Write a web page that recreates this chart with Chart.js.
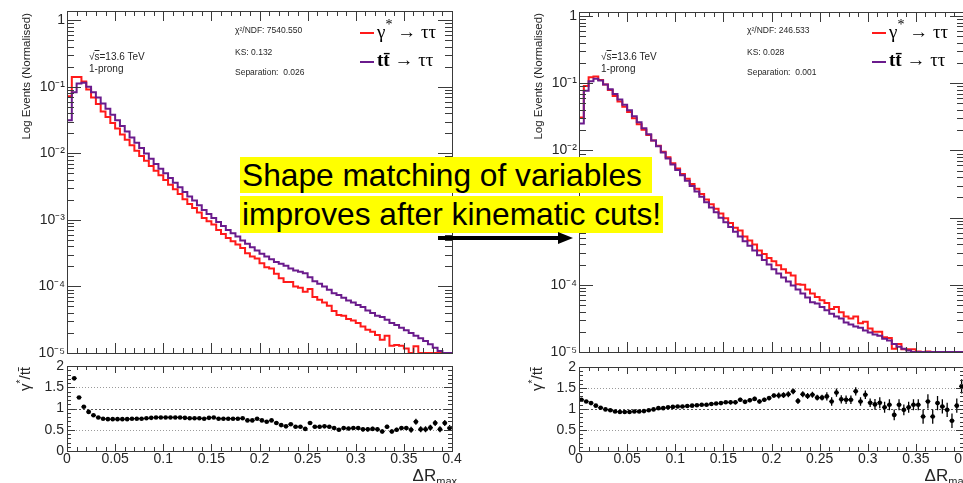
<!DOCTYPE html>
<html>
<head>
<meta charset="utf-8">
<title>ΔR_max shape comparison</title>
<script src="https://cdn.jsdelivr.net/npm/chart.js@4.4.1/dist/chart.umd.min.js"></script>
<style>
  html, body { margin: 0; padding: 0; background: #fff; }
  body { position: relative; width: 963px; height: 483px; overflow: hidden; font-family: "Liberation Sans", Arial, sans-serif; }
  canvas { position: absolute; }
  .lbl { position: absolute; white-space: pre; color: #262626; line-height: 1; }
  .rot { transform-origin: 0 0; transform: rotate(-90deg); text-align: right; }
  .leg { position: absolute; white-space: pre; font-family: "Liberation Serif", "Times New Roman", serif; font-size: 19px; line-height: 19px; color: #000; }
  .swatch { position: absolute; width: 14px; height: 2px; }
  .note { position: absolute; left: 240px; height: 36px; background: #ffff00; font-size: 31.7px; line-height: 36px; color: #000; padding-left: 2px; white-space: pre; }
</style>
</head>
<body>
<canvas id="topL" width="475" height="365" style="left:0;top:0"></canvas>
<canvas id="ratioL" width="475" height="125" style="left:0;top:358px"></canvas>
<canvas id="topR" width="475" height="365" style="left:512px;top:0"></canvas>
<canvas id="ratioR" width="475" height="125" style="left:512px;top:358px"></canvas>
<div id="labels"></div>
<div class="note" style="top:157px;width:410px">Shape matching of variables </div>
<div class="note" style="top:196px;width:421px;height:37px">improves after kinematic cuts!</div>
<svg style="position:absolute;left:430px;top:225px" width="150" height="26">
  <line x1="8" y1="13" x2="131" y2="13" stroke="#000" stroke-width="4"/>
  <polygon points="128,7 143,13 128,19" fill="#000"/>
</svg>
<script>
// 80 bins of 0.005 in ΔR_max, from 0 to 0.4
const binWidth = 0.005;
const yFloor = 1e-5;

// before kinematic cuts
const gammaLeft = [
  7.24e-2, 1.41e-1, 1.41e-1, 1.20e-1, 9.12e-2, 6.92e-2, 5.50e-2, 4.27e-2, 3.51e-2, 2.85e-2,
  2.37e-2, 1.93e-2, 1.60e-2, 1.32e-2, 1.10e-2, 9.12e-3, 7.76e-3, 6.46e-3, 5.50e-3, 4.68e-3,
  3.98e-3, 3.39e-3, 2.88e-3, 2.45e-3, 2.04e-3, 1.74e-3, 1.51e-3, 1.29e-3, 1.07e-3, 9.55e-4,
  8.51e-4, 7.08e-4, 6.17e-4, 5.37e-4, 4.79e-4, 4.27e-4, 3.80e-4, 3.16e-4, 2.82e-4, 2.63e-4,
  2.24e-4, 1.95e-4, 1.86e-4, 1.55e-4, 1.33e-4, 1.17e-4, 1.17e-4, 1.00e-4, 9.55e-5, 8.32e-5,
  9.12e-5, 6.92e-5, 6.31e-5, 5.75e-5, 5.13e-5, 4.27e-5, 3.72e-5, 3.63e-5, 3.24e-5, 3.09e-5,
  2.82e-5, 2.51e-5, 2.24e-5, 2.09e-5, 1.86e-5, 1.58e-5, 1.82e-5, 1.29e-5, 1.32e-5, 1.29e-5,
  1.17e-5, 1.00e-5, 1.26e-5, 8.5e-6, 7.8e-6, 7.4e-6, 7.9e-6, 5.5e-6, 6.5e-6, 5.1e-6
];
const ttbarLeft = [
  3.16e-2, 8.32e-2, 1.12e-1, 1.15e-1, 1.00e-1, 8.32e-2, 6.92e-2, 5.62e-2, 4.68e-2, 3.80e-2,
  3.16e-2, 2.57e-2, 2.14e-2, 1.74e-2, 1.45e-2, 1.20e-2, 1.00e-2, 8.32e-3, 6.92e-3, 5.89e-3,
  5.01e-3, 4.27e-3, 3.63e-3, 3.09e-3, 2.63e-3, 2.24e-3, 1.95e-3, 1.66e-3, 1.41e-3, 1.23e-3,
  1.07e-3, 9.33e-4, 8.13e-4, 7.08e-4, 6.31e-4, 5.62e-4, 4.90e-4, 4.37e-4, 3.89e-4, 3.47e-4,
  3.09e-4, 2.82e-4, 2.57e-4, 2.34e-4, 2.19e-4, 2.04e-4, 1.86e-4, 1.74e-4, 1.66e-4, 1.58e-4,
  1.38e-4, 1.20e-4, 1.10e-4, 1.00e-4, 8.91e-5, 7.94e-5, 7.41e-5, 6.76e-5, 6.17e-5, 5.75e-5,
  5.25e-5, 4.90e-5, 4.37e-5, 3.98e-5, 3.63e-5, 3.47e-5, 3.16e-5, 2.82e-5, 2.63e-5, 2.40e-5,
  2.19e-5, 2.00e-5, 1.82e-5, 1.66e-5, 1.51e-5, 1.35e-5, 1.20e-5, 1.07e-5, 9.8e-6, 9.5e-6
];
const ratioLeft = [
  null, 1.71, 1.26, 1.04, 0.92, 0.84, 0.79, 0.76, 0.75, 0.75,
  0.75, 0.75, 0.75, 0.76, 0.76, 0.76, 0.77, 0.78, 0.79, 0.79,
  0.79, 0.79, 0.79, 0.79, 0.78, 0.77, 0.77, 0.77, 0.76, 0.78,
  0.79, 0.76, 0.76, 0.76, 0.76, 0.76, 0.77, 0.72, 0.72, 0.76,
  0.72, 0.69, 0.72, 0.66, 0.61, 0.58, 0.63, 0.57, 0.57, 0.52,
  0.66, 0.57, 0.57, 0.58, 0.57, 0.54, 0.50, 0.54, 0.53, 0.54,
  0.54, 0.51, 0.51, 0.52, 0.51, 0.46, 0.57, 0.46, 0.50, 0.54,
  0.54, 0.50, 0.69, 0.51, 0.51, 0.55, 0.66, 0.51, 0.66, 0.54
];
const ratioErrLeft = [
  0, 0.03, 0.02, 0.02, 0.02, 0.02, 0.02, 0.02, 0.02, 0.02,
  0.02, 0.02, 0.02, 0.02, 0.02, 0.02, 0.02, 0.02, 0.02, 0.02,
  0.02, 0.02, 0.02, 0.02, 0.02, 0.02, 0.02, 0.02, 0.02, 0.02,
  0.02, 0.02, 0.02, 0.02, 0.02, 0.02, 0.03, 0.03, 0.03, 0.03,
  0.03, 0.03, 0.03, 0.03, 0.03, 0.03, 0.03, 0.03, 0.03, 0.03,
  0.03, 0.04, 0.04, 0.04, 0.04, 0.04, 0.04, 0.04, 0.04, 0.04,
  0.04, 0.05, 0.05, 0.05, 0.05, 0.05, 0.05, 0.05, 0.05, 0.05,
  0.05, 0.07, 0.07, 0.07, 0.07, 0.07, 0.07, 0.07, 0.07, 0.07
];

// after kinematic cuts
const gammaRight = [
  3.09e-2, 9.12e-2, 1.23e-1, 1.26e-1, 1.12e-1, 9.55e-2, 7.94e-2, 6.46e-2, 5.37e-2, 4.47e-2,
  3.72e-2, 3.02e-2, 2.45e-2, 2.04e-2, 1.70e-2, 1.41e-2, 1.17e-2, 9.55e-3, 7.94e-3, 6.46e-3,
  5.37e-3, 4.47e-3, 3.80e-3, 3.16e-3, 2.69e-3, 2.24e-3, 1.86e-3, 1.58e-3, 1.35e-3, 1.15e-3,
  9.77e-4, 8.32e-4, 7.08e-4, 6.46e-4, 5.25e-4, 4.57e-4, 3.98e-4, 3.24e-4, 2.88e-4, 2.51e-4,
  2.24e-4, 1.95e-4, 1.70e-4, 1.51e-4, 1.38e-4, 1.02e-4, 1.00e-4, 8.51e-5, 7.41e-5, 6.61e-5,
  5.89e-5, 5.37e-5, 4.37e-5, 4.68e-5, 3.89e-5, 3.39e-5, 3.16e-5, 3.39e-5, 2.69e-5, 2.82e-5,
  2.24e-5, 2.00e-5, 2.00e-5, 1.66e-5, 1.62e-5, 1.12e-5, 1.32e-5, 1.10e-5, 1.10e-5, 1.10e-5,
  1.02e-5, 8.1e-6, 1.02e-5, 7.2e-6, 9.1e-6, 8.3e-6, 6.9e-6, 5.5e-6, 6.8e-6, 9.8e-6
];
const ttbarRight = [
  2.51e-2, 7.76e-2, 1.07e-1, 1.17e-1, 1.10e-1, 9.55e-2, 8.13e-2, 6.92e-2, 5.75e-2, 4.79e-2,
  3.98e-2, 3.24e-2, 2.63e-2, 2.14e-2, 1.74e-2, 1.41e-2, 1.15e-2, 9.33e-3, 7.59e-3, 6.17e-3,
  5.13e-3, 4.27e-3, 3.55e-3, 2.95e-3, 2.45e-3, 2.04e-3, 1.70e-3, 1.41e-3, 1.20e-3, 1.00e-3,
  8.51e-4, 7.24e-4, 6.17e-4, 5.25e-4, 4.47e-4, 3.80e-4, 3.24e-4, 2.75e-4, 2.34e-4, 2.00e-4,
  1.70e-4, 1.48e-4, 1.29e-4, 1.12e-4, 9.77e-5, 8.51e-5, 7.41e-5, 6.46e-5, 5.50e-5, 5.25e-5,
  4.68e-5, 4.17e-5, 3.72e-5, 3.39e-5, 3.16e-5, 2.75e-5, 2.57e-5, 2.40e-5, 2.29e-5, 2.09e-5,
  1.95e-5, 1.82e-5, 1.74e-5, 1.58e-5, 1.48e-5, 1.32e-5, 1.20e-5, 1.12e-5, 1.05e-5, 1.00e-5,
  9.3e-6, 1.00e-5, 8.7e-6, 8.9e-6, 7.9e-6, 7.9e-6, 7.1e-6, 7.6e-6, 6.3e-6, 6.3e-6
];
const ratioRight = [
  1.22, 1.18, 1.14, 1.08, 1.03, 0.99, 0.97, 0.94, 0.93, 0.93,
  0.93, 0.94, 0.94, 0.95, 0.97, 0.99, 1.02, 1.02, 1.04, 1.05,
  1.06, 1.06, 1.07, 1.08, 1.09, 1.10, 1.10, 1.12, 1.13, 1.14,
  1.16, 1.16, 1.16, 1.22, 1.17, 1.21, 1.24, 1.18, 1.22, 1.26,
  1.32, 1.32, 1.33, 1.35, 1.42, 1.19, 1.35, 1.31, 1.34, 1.27,
  1.27, 1.30, 1.18, 1.39, 1.23, 1.22, 1.22, 1.42, 1.18, 1.34,
  1.15, 1.11, 1.15, 1.04, 1.10, 0.86, 1.10, 0.98, 1.04, 1.10,
  1.10, 0.82, 1.18, 0.82, 1.14, 1.06, 0.98, 0.72, 1.08, 1.54
];
const ratioErrRight = [
  0.02, 0.02, 0.02, 0.02, 0.02, 0.02, 0.02, 0.02, 0.02, 0.02,
  0.02, 0.02, 0.02, 0.02, 0.02, 0.02, 0.02, 0.02, 0.02, 0.02,
  0.02, 0.03, 0.03, 0.03, 0.03, 0.03, 0.03, 0.03, 0.03, 0.03,
  0.03, 0.05, 0.05, 0.05, 0.05, 0.05, 0.05, 0.05, 0.05, 0.05,
  0.05, 0.07, 0.07, 0.07, 0.07, 0.07, 0.07, 0.07, 0.07, 0.07,
  0.07, 0.10, 0.10, 0.10, 0.10, 0.10, 0.10, 0.10, 0.10, 0.10,
  0.10, 0.13, 0.13, 0.13, 0.13, 0.13, 0.13, 0.13, 0.13, 0.13,
  0.13, 0.17, 0.17, 0.17, 0.17, 0.17, 0.17, 0.17, 0.17, 0.17
];

const statsLeft = ['χ²/NDF: 7540.550', 'KS: 0.132', 'Separation:  0.026'];
const statsRight = ['χ²/NDF: 246.533', 'KS: 0.028', 'Separation:  0.001'];

// axis labels
const xTickValues = [0, 0.05, 0.1, 0.15, 0.2, 0.25, 0.3, 0.35, 0.4];
const xTickLabels = ['0', '0.05', '0.1', '0.15', '0.2', '0.25', '0.3', '0.35', '0.4'];
const logTickValues = [1e-5, 1e-4, 1e-3, 1e-2, 1e-1, 1];
const logTickLabels = ['10⁻⁵', '10⁻⁴', '10⁻³', '10⁻²', '10⁻¹', '1'];
const ratioTickValues = [0, 0.5, 1, 1.5, 2];
const ratioTickLabels = ['0', '0.5', '1', '1.5', '2'];

const gammaColor = '#ff1a1a';
const ttbarColor = '#6a1b8c';
const textColor = '#262626';

Chart.defaults.font.family = '"Liberation Sans", Arial, sans-serif';

// minor/major tick positions along the y axes
const logTicks = [];
for (let e = -5; e <= 0; e++) {
  for (let m = 1; m <= 9; m++) logTicks.push({ v: m * Math.pow(10, e), major: m === 1 });
}
const ratioTicks = [];
for (let k = 0; k <= 20; k++) ratioTicks.push({ v: k / 10, major: k % 5 === 0 });

// ROOT style frame: box with inward ticks on all four sides
const rootFrame = {
  id: 'rootFrame',
  afterDraw(chart, args, o) {
    const { ctx, chartArea: a, scales: { x, y } } = chart;
    ctx.save();
    ctx.strokeStyle = '#3a3a3a';
    ctx.lineWidth = 1;
    ctx.beginPath();
    for (let k = 0; k <= 40; k++) {
      const px = Math.round(x.getPixelForValue(k * 0.01)) + 0.5;
      const len = k % 5 === 0 ? o.xMajor : o.xMinor;
      ctx.moveTo(px, a.bottom); ctx.lineTo(px, a.bottom - len);
      ctx.moveTo(px, a.top); ctx.lineTo(px, a.top + len);
    }
    o.yTicks.forEach(t => {
      const py = Math.round(y.getPixelForValue(t.v)) + 0.5;
      if (py < a.top || py > a.bottom + 1) return;
      const len = t.major ? o.yMajor : o.yMinor;
      ctx.moveTo(a.left, py); ctx.lineTo(a.left + len, py);
      ctx.moveTo(a.right, py); ctx.lineTo(a.right - len, py);
    });
    ctx.stroke();
    ctx.strokeRect(Math.round(a.left) + 0.5, Math.round(a.top) + 0.5,
      Math.round(a.right - a.left), Math.round(a.bottom - a.top));
    ctx.restore();
  }
};

// dotted reference lines and error bars of the ratio panel
const ratioDecor = {
  id: 'ratioDecor',
  beforeDatasetsDraw(chart, args, o) {
    const { ctx, chartArea: a, scales: { x, y } } = chart;
    ctx.save();
    [[0.5, '#9a9a9a', [1, 2]], [1.5, '#9a9a9a', [1, 2]], [1, '#555', [2, 2]]].forEach(([v, c, d]) => {
      const py = Math.round(y.getPixelForValue(v)) + 0.5;
      ctx.strokeStyle = c;
      ctx.setLineDash(d);
      ctx.beginPath(); ctx.moveTo(a.left, py); ctx.lineTo(a.right, py); ctx.stroke();
    });
    ctx.setLineDash([]);
    ctx.strokeStyle = '#000';
    ctx.lineWidth = 1.3;
    ctx.beginPath();
    o.values.forEach((v, i) => {
      if (v === null) return;
      const xc = x.getPixelForValue((i + 0.5) * binWidth);
      const yc = y.getPixelForValue(v);
      ctx.moveTo(xc, y.getPixelForValue(v - o.errors[i]));
      ctx.lineTo(xc, y.getPixelForValue(v + o.errors[i]));
      ctx.moveTo(x.getPixelForValue(i * binWidth), yc);
      ctx.lineTo(x.getPixelForValue((i + 1) * binWidth), yc);
    });
    ctx.stroke();
    ctx.restore();
  }
};

// bins that fall under the axis floor run along it, as in ROOT
function histPoints(values) {
  const pts = values.map((v, i) => ({ x: i * binWidth, y: Math.max(v, yFloor) }));
  pts.push({ x: values.length * binWidth, y: Math.max(values[values.length - 1], yFloor) });
  return pts;
}

function histSet(values, color) {
  return {
    data: histPoints(values), borderColor: color, borderWidth: 2,
    stepped: true, pointRadius: 0, fill: false, borderJoinStyle: 'miter', clip: 2
  };
}

const tickFont = { size: 14 };

function topChart(id, gamma, ttbar, yMax, top, bottom) {
  return new Chart(document.getElementById(id), {
    type: 'line',
    data: { datasets: [histSet(ttbar, ttbarColor), histSet(gamma, gammaColor)] },
    options: {
      responsive: false, animation: false, events: [],
      layout: { padding: { top: top, right: 23, bottom: 365 - bottom, left: 0 } },
      plugins: {
        legend: { display: false }, tooltip: { enabled: false },
        rootFrame: { xMajor: 10, xMinor: 5, yMajor: 14, yMinor: 7, yTicks: logTicks }
      },
      scales: {
        x: { type: 'linear', min: 0, max: 0.4, display: false },
        y: {
          type: 'logarithmic', min: yFloor, max: yMax,
          grid: { display: false, drawTicks: false }, border: { display: false },
          afterBuildTicks: s => { s.ticks = logTickValues.map(v => ({ value: v })); },
          afterFit: s => { s.width = 67; s.paddingTop = 0; s.paddingBottom = 0; },
          ticks: { callback: (v, i) => logTickLabels[i], font: tickFont, color: textColor, padding: 2, autoSkip: false }
        }
      }
    },
    plugins: [rootFrame]
  });
}

function ratioChart(id, ratio, errors, top) {
  const pts = [];
  ratio.forEach((v, i) => { if (v !== null) pts.push({ x: (i + 0.5) * binWidth, y: v }); });
  return new Chart(document.getElementById(id), {
    type: 'scatter',
    data: { datasets: [{ data: pts, pointRadius: 2.3, backgroundColor: '#000', borderWidth: 0 }] },
    options: {
      responsive: false, animation: false, events: [],
      layout: { padding: { top: top - 358, right: 23, bottom: 0, left: 0 } },
      plugins: {
        legend: { display: false }, tooltip: { enabled: false },
        rootFrame: { xMajor: 7, xMinor: 4, yMajor: 8, yMinor: 4, yTicks: ratioTicks },
        ratioDecor: { values: ratio, errors: errors }
      },
      scales: {
        x: {
          type: 'linear', min: 0, max: 0.4,
          grid: { display: false, drawTicks: false }, border: { display: false },
          afterBuildTicks: s => { s.ticks = xTickValues.map(v => ({ value: v })); },
          afterFit: s => { s.height = 32; s.paddingLeft = 0; s.paddingRight = 0; },
          ticks: { callback: (v, i) => xTickLabels[i], font: tickFont, color: textColor, padding: 0, maxRotation: 0, autoSkip: false }
        },
        y: {
          type: 'linear', min: 0, max: 2,
          grid: { display: false, drawTicks: false }, border: { display: false },
          afterBuildTicks: s => { s.ticks = ratioTickValues.map(v => ({ value: v })); },
          afterFit: s => { s.width = 67; s.paddingTop = 0; s.paddingBottom = 0; },
          ticks: { callback: (v, i) => ratioTickLabels[i], font: tickFont, color: textColor, padding: 3, autoSkip: false }
        }
      }
    },
    plugins: [rootFrame, ratioDecor]
  });
}

topChart('topL', gammaLeft, ttbarLeft, 1.38, 11, 353);
ratioChart('ratioL', ratioLeft, ratioErrLeft, 366);
topChart('topR', gammaRight, ttbarRight, 1.15, 12, 352);
ratioChart('ratioR', ratioRight, ratioErrRight, 367);

// text around each panel
const holder = document.getElementById('labels');
function put(cls, html, css) {
  const d = document.createElement('div');
  d.className = cls;
  d.innerHTML = html;
  Object.assign(d.style, css);
  holder.appendChild(d);
  return d;
}

function panelText(dx, stats) {
  put('lbl rot', 'Log Events (Normalised)', { left: (21 + dx) + 'px', top: '213px', width: '200px', fontSize: '11.5px' });
  put('lbl rot', 'γ<sup style="font-size:10px">*</sup>/tt̄', { left: (16 + dx) + 'px', top: '427px', width: '60px', fontSize: '15px' });
  put('lbl', 'ΔR<sub style="font-size:11px">max</sub>', { left: (357 + dx) + 'px', top: '467px', width: '100px', textAlign: 'right', fontSize: '17px' });
  put('lbl', '√<span style="text-decoration:overline">s</span>=13.6 TeV', { left: (89 + dx) + 'px', top: '52px', fontSize: '10px' });
  put('lbl', '1-prong', { left: (89 + dx) + 'px', top: '64px', fontSize: '10px' });
  stats.forEach((s, i) => {
    put('lbl', s, { left: (235 + dx) + 'px', top: [26, 48, 68][i] + 'px', fontSize: '8.5px' });
  });
  put('swatch', '', { left: (360 + dx) + 'px', top: '32px', background: gammaColor });
  put('swatch', '', { left: (360 + dx) + 'px', top: '61px', background: ttbarColor });
  put('leg', 'γ<span style="position:relative;top:-9px;font-size:14px">*</span> → ττ', { left: (377 + dx) + 'px', top: '22px' });
  put('leg', '<b>tt̄</b> → ττ', { left: (377 + dx) + 'px', top: '50px' });
}
panelText(0, statsLeft);
panelText(512, statsRight);
</script>
</body>
</html>
